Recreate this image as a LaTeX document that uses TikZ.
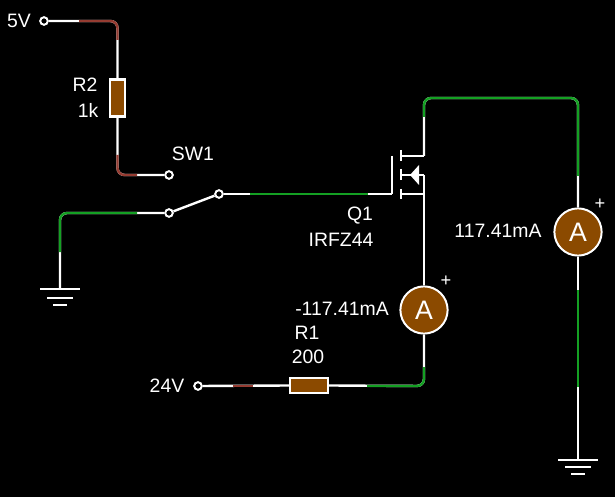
\documentclass[tikz,border=0pt]{standalone}
\usepackage{fontspec}
\setmainfont{Liberation Sans}
\usepackage{xcolor}
\usetikzlibrary{calc}
\definecolor{resbrown}{RGB}{139,74,0}
\definecolor{wirered}{RGB}{150,60,50}
\definecolor{wiregreen}{RGB}{20,160,35}

\begin{document}
\begin{tikzpicture}[
	x = 0.025cm,
	y = -0.025cm,
	wire/.style={draw=white, line width=1.7pt, rounded corners=5pt},
	redwire/.style={draw=wirered, line width=1.7pt, rounded corners=5pt},
	greenwire/.style={draw=wiregreen, line width=1.7pt, rounded corners=5pt},
	term/.style={circle, draw=white, fill=black, line width=1.4pt, inner sep=0pt, minimum size=0.19cm},
	rbox/.style={rectangle, draw=white, fill=resbrown, line width=1.7pt, inner sep=0pt},
	amm/.style={circle, draw=white, fill=resbrown, line width=1.4pt, inner sep=0pt, minimum size=1.18cm, text=white, font=\fontsize{19}{19}\selectfont},
	lbl/.style={text=white, inner sep=0pt, font=\fontsize{13.8}{15}\selectfont},
	plus/.style={text=white, inner sep=0pt, font=\fontsize{13}{13}\selectfont},
	]

	\fill[black] (0,0) rectangle (615,497);
	\useasboundingbox (0,0) rectangle (615,497);

	% terminals and parts
	\node[term] (T5) at (44,21) {};
	\node[term] (T24) at (198,386) {};
	\node[term] (SWa) at (169,175) {};
	\node[term] (SWb) at (169,213) {};
	\node[term] (SWc) at (219,194) {};
	\node[rbox, minimum width=0.36cm, minimum height=0.92cm] (R2) at (117.5,98) {};
	\node[rbox, minimum width=0.94cm, minimum height=0.38cm] (R1) at (309,385.5) {};
	\node[amm] (A1) at (424,310) {A};
	\node[amm] (A2) at (578,232) {A};

	% mosfet
	\coordinate (gate) at (392,194);
	\coordinate (drain) at (424,156);
	\coordinate (body) at (424,175);
	\coordinate (source) at (424,194);
	\coordinate (gnd1) at (60,289);
	\coordinate (gnd2) at (578,460);

	\draw[wire] (392,156) -- (gate);
	\draw[wire] (401,150) -- (401,161);
	\draw[wire] (401,169) -- (401,180);
	\draw[wire] (401,189) -- (401,199);
	\draw[wire] (401,156) -- (drain);
	\draw[wire] (401,175) -- (body);
	\draw[wire] (401,194) -- (source);
	\fill[white] (410,175) -- (419,165) -- (419,185) -- cycle;

	% wires
	\draw[wire] (T5) -- (117.5,21) -- (R2.north);
	\draw[wire] (R2.south) -- (117.5,175) -- (SWa);
	\draw[wire] (SWb) -- (60,213) -- (gnd1);
	\draw[wire] (SWb) -- (SWc);
	\draw[wire] (SWc) -- (gate);
	\draw[wire] (body) -- (A1.north);
	\draw[wire] (drain) -- (424,98) -- (578,98) -- (A2.north);
	\draw[wire] (A2.south) -- (gnd2);
	\draw[wire] (A1.south) -- (424,386) -- (R1.east);
	\draw[wire] (T24) -- (R1.west);

	% coloured parts of the wires
	\draw[redwire] (79,21) -- (117.5,21) -- (117.5,40);
	\draw[redwire] (117.5,155) -- (117.5,175) -- (137,175);
	\draw[redwire] (233,386) -- (253,386);
	\draw[greenwire] (137,213) -- (60,213) -- (60,252);
	\draw[greenwire] (250,194) -- (368,194);
	\draw[greenwire] (424,117) -- (424,98) -- (578,98) -- (578,176);
	\draw[greenwire] (578,290) -- (578,387);
	\draw[greenwire] (424,367) -- (424,386) -- (367,386);

	% grounds
	\draw[wire] ($(gnd1)+(-20,0)$) -- ($(gnd1)+(20,0)$);
	\draw[wire] ($(gnd1)+(-13,9)$) -- ($(gnd1)+(13,9)$);
	\draw[wire] ($(gnd1)+(-7,16)$) -- ($(gnd1)+(7,16)$);
	\draw[wire] ($(gnd2)+(-20,0)$) -- ($(gnd2)+(20,0)$);
	\draw[wire] ($(gnd2)+(-13,7)$) -- ($(gnd2)+(13,7)$);
	\draw[wire] ($(gnd2)+(-7,14)$) -- ($(gnd2)+(7,14)$);

	% labels
	\node[lbl] (L5) at (19,21) {5V};
	\node[lbl] (L24) at (167,386) {24V};
	\node[lbl] (LR2) at (85,85) {R2};
	\node[lbl] (LR2v) at (88,110) {1k};
	\node[lbl] (LSW) at (193,154) {SW1};
	\node[lbl] (LQ) at (360,216) {Q1};
	\node[lbl] (LQv) at (341,240) {IRFZ44};
	\node[lbl] (LA1) at (342,309) {-117.41mA};
	\node[lbl] (LR1) at (307,333) {R1};
	\node[lbl] (LR1v) at (308,357) {200};
	\node[lbl] (LA2) at (498,231) {117.41mA};
	\node[plus] (P1) at (446,281) {+};
	\node[plus] (P2) at (600,204) {+};

\end{tikzpicture}
\end{document}
